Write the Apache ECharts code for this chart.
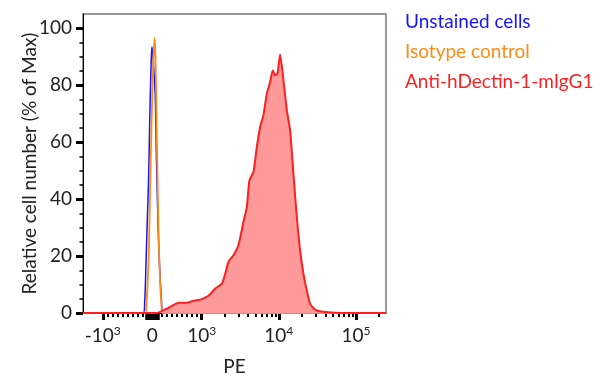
<!DOCTYPE html>
<html><head><meta charset="utf-8">
<script src="https://cdn.jsdelivr.net/npm/echarts@6/dist/echarts.min.js"></script>
<style>html,body{margin:0;padding:0;background:#fff}#c{width:600px;height:384px}</style>
</head><body><div id="c"></div>
<script>
// ---- data: x = PE fluorescence, y = relative cell number (% of Max)
const seriesNames = ['Unstained cells', 'Isotype control', 'Anti-hDectin-1-mIgG1'];
const seriesColors = ['#1414ff', '#ff8a14', '#ff1f1f'];

const unstainedPE  = [-1805, -182, -152, -127, -101, -75, -57, -40, -20, -6, 10, 30, 61, 81, 95, 121, 147, 182, 228, 245000];
const unstainedPct = [0, 0, 4, 17, 32, 46.5, 62, 76, 89, 93.4, 91, 86, 76, 58, 46.5, 29, 17, 6, 0, 0];

const isotypePE  = [-1805, -141, -111, -81, -61, -40, -20, 0, 20, 46, 65, 85, 107, 131, 156, 182, 212, 245000];
const isotypePct = [0, 0, 5, 15, 28, 46.5, 62, 76, 88, 96.7, 90, 70, 46.5, 26, 12, 4, 0, 0];

const antiPE  = [-1805, 0, 95, 228, 364, 531, 701, 802, 903, 970, 1110, 1289, 1496, 1826, 2016, 2223, 2579, 2994, 3477, 3848, 4160, 4683, 5185, 5724, 6310, 6985, 7713, 8353, 8954, 9580, 10390, 11470, 12690, 14000, 15450, 17100, 18870, 20830, 23020, 25420, 29510, 37500, 62200, 245000];
const antiPct = [0, 0, 0, 1.0, 2.1, 3.6, 3.6, 4.1, 4.5, 4.7, 5.4, 6.6, 8.6, 10.3, 13.8, 17.9, 20.3, 23.8, 32, 37.2, 46.6, 49.5, 58.3, 65.3, 69.4, 77, 81.1, 85.2, 83.5, 84, 90.8, 81.7, 71.2, 64.1, 49, 33.7, 22, 13.8, 8, 3.3, 1.2, 0.4, 0, 0];

// axis ticks
const xTickValues = [-1000, 0, 1000, 10000, 100000];
const xTickBase   = ['-10', '0', '10', '10', '10'];
const xTickExp    = ['3', '', '3', '4', '5'];
const yTickValues = [0, 20, 40, 60, 80, 100];
const yMinorTicks = [5, 10, 15, 25, 30, 35, 45, 50, 55, 65, 70, 75, 85, 90, 95];
const xRange = [-1805, 245000];
const yRange = [0, 105];

// ---- logicle-like display scale: linear within +-1000, log outside
const LIN = 1000, DEC = 1.56;
function toAxis(v) {
  const a = Math.abs(v);
  if (a <= LIN) return v / LIN;
  return Math.sign(v) * (1 + DEC * Math.log10(a / LIN));
}

const minorX = [];
for (let k = 1; k <= 9; k++) { minorX.push(toAxis(-k * 100)); minorX.push(toAxis(k * 100)); }
for (let d = 1000; d <= 100000; d *= 10) for (let k = 2; k <= 9; k++) { if (d * k < xRange[1]) minorX.push(toAxis(d * k)); }
const zeroBlock = [];
for (let k = -14; k <= 14; k++) zeroBlock.push(toAxis(k * 10));

const majorAxis = xTickValues.map(toAxis);
function fmtX(val) {
  let idx = 0, best = 1e9;
  majorAxis.forEach((m, i) => { const d = Math.abs(m - val); if (d < best) { best = d; idx = i; } });
  return xTickExp[idx] ? '{b|' + xTickBase[idx] + '}{s|' + xTickExp[idx] + '}' : '{b|' + xTickBase[idx] + '}';
}

const FONT = 'Lato';
const chart = echarts.init(document.getElementById('c'), null, { renderer: 'canvas' });
const xMin = toAxis(xRange[0]), xMax = toAxis(xRange[1]);

function mk(xs, ys) { return xs.map((v, i) => [toAxis(v), ys[i]]); }

const option = {
  animation: false,
  backgroundColor: '#fff',
  textStyle: { fontFamily: FONT },
  grid: { left: 83, right: 214, top: 14, bottom: 71, show: true, borderColor: '#777', borderWidth: 1.5, backgroundColor: 'transparent' },
  legend: {
    orient: 'vertical', left: 400, top: 12, itemGap: 11, itemWidth: 0, itemHeight: 0, padding: 0,
    selectedMode: false, icon: 'rect',
    textStyle: { fontFamily: FONT, fontSize: 19 },
    data: seriesNames.map((n, i) => ({ name: n, textStyle: { color: seriesColors[i] } }))
  },
  xAxis: [
    {
      type: 'value', min: xMin, max: xMax, position: 'bottom',
      name: 'PE', nameLocation: 'middle', nameGap: 44, nameMoveOverlap: false,
      nameTextStyle: { fontFamily: FONT, fontSize: 19, color: '#222' },
      axisLine: { show: true, onZero: false, lineStyle: { color: '#000', width: 1 } },
      axisTick: { show: true, customValues: majorAxis.filter((v, i) => i !== 1), length: 7, lineStyle: { color: '#000', width: 3 } },
      axisLabel: {
        customValues: majorAxis, margin: 12, formatter: fmtX,
        rich: {
          b: { fontFamily: FONT, fontSize: 19, color: '#222', lineHeight: 22 },
          s: { fontFamily: FONT, fontSize: 12, color: '#222', verticalAlign: 'top', lineHeight: 12 }
        }
      },
      splitLine: { show: false }
    },
    {
      type: 'value', min: xMin, max: xMax, position: 'bottom',
      axisLine: { show: false, onZero: false }, axisLabel: { show: false }, splitLine: { show: false },
      axisTick: { show: true, customValues: minorX, length: 4, lineStyle: { color: '#000', width: 2 } }
    },
    {
      type: 'value', min: xMin, max: xMax, position: 'bottom',
      axisLine: { show: false, onZero: false }, axisLabel: { show: false }, splitLine: { show: false },
      axisTick: { show: true, customValues: zeroBlock, length: 7, lineStyle: { color: '#000', width: 1.5 } }
    }
  ],
  yAxis: [
    {
      type: 'value', min: yRange[0], max: yRange[1], position: 'left',
      name: 'Relative cell number (% of Max)', nameLocation: 'middle', nameGap: 44, nameMoveOverlap: false,
      nameTextStyle: { fontFamily: FONT, fontSize: 19, color: '#222' },
      axisLine: { show: true, onZero: false, lineStyle: { color: '#000', width: 1 } },
      axisTick: { show: true, customValues: yTickValues, length: 7, lineStyle: { color: '#000', width: 3 } },
      axisLabel: { customValues: yTickValues, margin: 11, fontFamily: FONT, fontSize: 19, color: '#222' },
      splitLine: { show: false }
    },
    {
      type: 'value', min: yRange[0], max: yRange[1], position: 'left',
      axisLine: { show: false, onZero: false }, axisLabel: { show: false }, splitLine: { show: false },
      axisTick: { show: true, customValues: yMinorTicks, length: 3.5, lineStyle: { color: '#000', width: 1.5 } }
    }
  ],
  series: [
    {
      name: seriesNames[0], type: 'line', data: mk(unstainedPE, unstainedPct), symbol: 'none', smooth: 0.3,
      lineStyle: { color: seriesColors[0], width: 1.5 }, itemStyle: { color: seriesColors[0] }, z: 3
    },
    {
      name: seriesNames[1], type: 'line', data: mk(isotypePE, isotypePct), symbol: 'none', smooth: 0.3,
      lineStyle: { color: seriesColors[1], width: 1.8 }, itemStyle: { color: seriesColors[1] }, z: 4
    },
    {
      name: seriesNames[2], type: 'line', data: mk(antiPE, antiPct), symbol: 'none', smooth: 0.2,
      lineStyle: { color: seriesColors[2], width: 2 }, itemStyle: { color: seriesColors[2] },
      areaStyle: { color: '#ff9a9a', opacity: 1 }, z: 5
    }
  ]
};
chart.setOption(option);
</script>
</body></html>
